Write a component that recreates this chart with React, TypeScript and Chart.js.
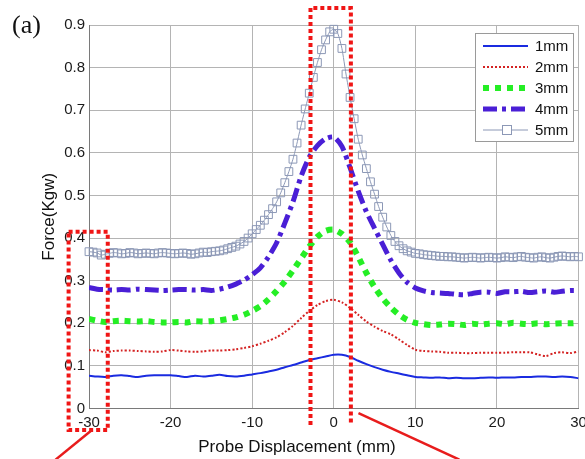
import React, { useEffect, useRef } from "react";
import { Chart, registerables } from "chart.js";

Chart.register(...registerables);

// Probe displacement (mm), 1 mm steps (curves 1-4)
const X_1MM_STEP = [
  -30, -29, -28, -27, -26, -25, -24, -23, -22, -21, -20, -19, -18, -17, -16, -15,
  -14, -13, -12, -11, -10, -9, -8, -7, -6, -5, -4, -3, -2, -1, 0, 1, 2, 3, 4, 5,
  6, 7, 8, 9, 10, 11, 12, 13, 14, 15, 16, 17, 18, 19, 20, 21, 22, 23, 24, 25, 26,
  27, 28, 29, 30,
];

// Probe displacement (mm), 0.5 mm steps (curve 5)
const X_HALF_MM_STEP = [
  -30, -29.5, -29, -28.5, -28, -27.5, -27, -26.5, -26, -25.5, -25, -24.5, -24, -23.5,
  -23, -22.5, -22, -21.5, -21, -20.5, -20, -19.5, -19, -18.5, -18, -17.5, -17, -16.5,
  -16, -15.5, -15, -14.5, -14, -13.5, -13, -12.5, -12, -11.5, -11, -10.5, -10, -9.5,
  -9, -8.5, -8, -7.5, -7, -6.5, -6, -5.5, -5, -4.5, -4, -3.5, -3, -2.5, -2, -1.5, -1,
  -0.5, 0, 0.5, 1, 1.5, 2, 2.5, 3, 3.5, 4, 4.5, 5, 5.5, 6, 6.5, 7, 7.5, 8, 8.5, 9, 9.5,
  10, 10.5, 11, 11.5, 12, 12.5, 13, 13.5, 14, 14.5, 15, 15.5, 16, 16.5, 17, 17.5, 18,
  18.5, 19, 19.5, 20, 20.5, 21, 21.5, 22, 22.5, 23, 23.5, 24, 24.5, 25, 25.5, 26, 26.5,
  27, 27.5, 28, 28.5, 29, 29.5, 30,
];

const FORCE_1MM = [
  0.077, 0.075, 0.074, 0.077, 0.078, 0.076, 0.074, 0.077, 0.078, 0.078, 0.078, 0.076,
  0.074, 0.077, 0.075, 0.077, 0.079, 0.076, 0.075, 0.077, 0.080, 0.083, 0.087, 0.091,
  0.097, 0.102, 0.108, 0.114, 0.118, 0.122, 0.126, 0.126, 0.121, 0.112, 0.104, 0.097,
  0.091, 0.086, 0.082, 0.078, 0.074, 0.073, 0.072, 0.073, 0.071, 0.072, 0.071, 0.071,
  0.072, 0.073, 0.072, 0.073, 0.073, 0.074, 0.074, 0.075, 0.075, 0.074, 0.075, 0.074,
  0.071,
];

const FORCE_2MM = [
  0.137, 0.136, 0.132, 0.135, 0.136, 0.136, 0.135, 0.134, 0.133, 0.134, 0.137, 0.136,
  0.134, 0.133, 0.134, 0.136, 0.136, 0.137, 0.139, 0.142, 0.146, 0.152, 0.159, 0.167,
  0.179, 0.194, 0.212, 0.229, 0.243, 0.252, 0.255, 0.249, 0.236, 0.220, 0.204, 0.192,
  0.182, 0.174, 0.162, 0.149, 0.138, 0.135, 0.134, 0.133, 0.131, 0.131, 0.130, 0.130,
  0.131, 0.131, 0.131, 0.131, 0.132, 0.132, 0.132, 0.127, 0.123, 0.130, 0.132, 0.130,
  0.134,
];

const FORCE_3MM = [
  0.210, 0.206, 0.203, 0.205, 0.206, 0.205, 0.204, 0.205, 0.203, 0.202, 0.202, 0.203,
  0.202, 0.205, 0.204, 0.205, 0.207, 0.210, 0.214, 0.220, 0.229, 0.240, 0.256, 0.276,
  0.298, 0.324, 0.352, 0.380, 0.403, 0.417, 0.420, 0.410, 0.390, 0.356, 0.318, 0.285,
  0.258, 0.237, 0.220, 0.208, 0.201, 0.198, 0.196, 0.197, 0.199, 0.198, 0.196, 0.199,
  0.197, 0.199, 0.200, 0.198, 0.201, 0.199, 0.198, 0.200, 0.198, 0.199, 0.200, 0.200,
  0.201,
];

const FORCE_4MM = [
  0.284, 0.280, 0.279, 0.278, 0.279, 0.278, 0.280, 0.279, 0.278, 0.277, 0.278, 0.279,
  0.279, 0.278, 0.279, 0.277, 0.280, 0.285, 0.292, 0.301, 0.314, 0.330, 0.356, 0.389,
  0.435, 0.485, 0.545, 0.590, 0.617, 0.633, 0.637, 0.615, 0.565, 0.510, 0.462, 0.423,
  0.385, 0.348, 0.318, 0.296, 0.283, 0.276, 0.272, 0.271, 0.270, 0.268, 0.267, 0.270,
  0.273, 0.273, 0.270, 0.274, 0.274, 0.275, 0.272, 0.274, 0.276, 0.273, 0.275, 0.277,
  0.277,
];

const FORCE_5MM = [
  0.368, 0.367, 0.365, 0.360, 0.362, 0.364, 0.366, 0.365, 0.363, 0.364, 0.366, 0.365,
  0.363, 0.364, 0.365, 0.364, 0.363, 0.365, 0.366, 0.365, 0.364, 0.363, 0.364, 0.365,
  0.364, 0.362, 0.363, 0.365, 0.367, 0.366, 0.368, 0.369,
  0.370, 0.372, 0.375, 0.378, 0.381, 0.386, 0.392, 0.400, 0.410, 0.420, 0.430, 0.442,
  0.455, 0.469, 0.485, 0.506, 0.530, 0.556, 0.585, 0.623, 0.665, 0.703, 0.740, 0.777,
  0.812, 0.842, 0.865, 0.884, 0.890,
  0.880, 0.845, 0.785, 0.730, 0.680, 0.632, 0.595, 0.563, 0.532, 0.503, 0.474, 0.449,
  0.426, 0.406, 0.392, 0.382, 0.375, 0.370, 0.367, 0.364, 0.363, 0.361, 0.360, 0.359,
  0.358, 0.357, 0.357, 0.356, 0.356, 0.355,
  0.354, 0.353, 0.354, 0.355, 0.354, 0.353, 0.354, 0.355, 0.354, 0.353, 0.354, 0.356,
  0.355, 0.354, 0.356, 0.357, 0.355, 0.354, 0.353, 0.355, 0.356, 0.354, 0.353, 0.355,
  0.357, 0.358, 0.357, 0.356, 0.357, 0.356,
];

const SERIES_LABELS = ["1mm", "2mm", "3mm", "4mm", "5mm"];
const X_TITLE = "Probe Displacement (mm)";
const Y_TITLE = "Force(Kgw)";
const PANEL_LABEL = "(a)";

const SANS = '"Liberation Sans", Arial, Helvetica, sans-serif';

const COLORS = {
  c1: "#1a2be0",
  c2: "#d42222",
  c3: "#25ee25",
  c4: "#4a1fd6",
  c5: "#8c98b6",
  red: "#f01515",
};

const STYLES = [
  { color: COLORS.c1, width: 2, dash: [] as number[] },
  { color: COLORS.c2, width: 2, dash: [2, 2] },
  { color: COLORS.c3, width: 6, dash: [6, 6] },
  { color: COLORS.c4, width: 5, dash: [14, 5, 4, 5] },
  { color: COLORS.c5, width: 1, dash: [] as number[] },
];

// Annotation regions in data units
const LEFT_BOX = { x0: -32.5, x1: -27.7, y0: -0.0505, y1: 0.4147 };
const CENTER_BOX = { x0: -2.85, x1: 2.1, yTop: 0.94, yBottom: -0.039 };
const POINTER_LINES = [
  { x0: -29.6, y0: -0.05, x1: -34.1, y1: -0.12 },
  { x0: 3.03, y0: -0.011, x1: 15.4, y1: -0.12 },
];

function toPoints(xs: number[], ys: number[]) {
  return ys.map((v, i) => ({ x: xs[i], y: v }));
}

const overlayPlugin = {
  id: "overlay",
  afterDraw(chart: any) {
    const { ctx, scales } = chart;
    const xs = scales.x;
    const ys = scales.y;
    const px = (v: number) => xs.getPixelForValue(v);
    const py = (v: number) => ys.getPixelForValue(v);
    const area = chart.chartArea;

    ctx.save();

    // Panel label
    ctx.fillStyle = "#111";
    ctx.font = '26px "Liberation Serif", "Times New Roman", serif';
    ctx.textAlign = "left";
    ctx.textBaseline = "alphabetic";
    ctx.fillText(PANEL_LABEL, 12, 33);

    // Axis titles
    ctx.font = `17px ${SANS}`;
    ctx.fillStyle = "#111";
    ctx.textAlign = "center";
    ctx.textBaseline = "middle";
    ctx.fillText(X_TITLE, 297, 447);
    ctx.save();
    ctx.translate(49, (area.top + area.bottom) / 2);
    ctx.rotate(-Math.PI / 2);
    ctx.fillText(Y_TITLE, 0, 0);
    ctx.restore();

    // Legend
    const lx = 475, ly = 33, lw = 98, lh = 108;
    ctx.fillStyle = "#ffffff";
    ctx.fillRect(lx, ly, lw, lh);
    ctx.strokeStyle = "#9a9a9a";
    ctx.lineWidth = 1;
    ctx.setLineDash([]);
    ctx.strokeRect(lx + 0.5, ly + 0.5, lw, lh);
    const rowsY = [46, 67, 88, 109, 130];
    SERIES_LABELS.forEach((label, i) => {
      const s = STYLES[i];
      const y = rowsY[i];
      ctx.beginPath();
      ctx.strokeStyle = s.color;
      ctx.lineWidth = s.width;
      ctx.setLineDash(s.dash);
      ctx.lineCap = "butt";
      ctx.moveTo(483, y);
      ctx.lineTo(528, y);
      ctx.stroke();
      if (i === 4) {
        ctx.setLineDash([]);
        ctx.fillStyle = "#ffffff";
        ctx.fillRect(502, y - 4.5, 9, 9);
        ctx.strokeRect(502.5, y - 4.5, 9, 9);
      }
      ctx.setLineDash([]);
      ctx.fillStyle = "#111";
      ctx.font = `15px ${SANS}`;
      ctx.textAlign = "left";
      ctx.textBaseline = "middle";
      ctx.fillText(label, 535, y + 1);
    });

    // Red dotted annotation boxes
    ctx.strokeStyle = COLORS.red;
    ctx.lineWidth = 4;
    ctx.setLineDash([4, 3]);
    ctx.beginPath();
    ctx.rect(px(LEFT_BOX.x0), py(LEFT_BOX.y1), px(LEFT_BOX.x1) - px(LEFT_BOX.x0), py(LEFT_BOX.y0) - py(LEFT_BOX.y1));
    ctx.stroke();

    ctx.beginPath();
    ctx.moveTo(px(CENTER_BOX.x0), py(CENTER_BOX.yBottom));
    ctx.lineTo(px(CENTER_BOX.x0), py(CENTER_BOX.yTop));
    ctx.lineTo(px(CENTER_BOX.x1), py(CENTER_BOX.yTop));
    ctx.lineTo(px(CENTER_BOX.x1), py(CENTER_BOX.yBottom));
    ctx.stroke();

    // Red pointer lines
    ctx.setLineDash([]);
    ctx.lineWidth = 2.5;
    ctx.strokeStyle = "#e81c1c";
    POINTER_LINES.forEach((l) => {
      ctx.beginPath();
      ctx.moveTo(px(l.x0), py(l.y0));
      ctx.lineTo(px(l.x1), py(l.y1));
      ctx.stroke();
    });

    ctx.restore();
  },
};

export default function App() {
  const canvasRef = useRef<HTMLCanvasElement | null>(null);

  useEffect(() => {
    const canvas = canvasRef.current;
    if (!canvas) return;

    const lineData = [FORCE_1MM, FORCE_2MM, FORCE_3MM, FORCE_4MM];
    const datasets: any[] = lineData.map((vals, i) => ({
      label: SERIES_LABELS[i],
      data: toPoints(X_1MM_STEP, vals),
      borderColor: STYLES[i].color,
      borderWidth: STYLES[i].width,
      borderDash: STYLES[i].dash,
      borderCapStyle: "butt",
      pointRadius: 0,
      tension: 0.25,
      fill: false,
    }));
    datasets.push({
      label: SERIES_LABELS[4],
      data: toPoints(X_HALF_MM_STEP, FORCE_5MM),
      borderColor: STYLES[4].color,
      borderWidth: 1,
      pointStyle: "rect",
      pointRadius: 5.5,
      pointBorderWidth: 1,
      pointBorderColor: STYLES[4].color,
      pointBackgroundColor: "rgba(255,255,255,0)",
      tension: 0.2,
      fill: false,
      clip: false,
    });

    const tickFont = { family: SANS, size: 15 };

    const chart = new Chart(canvas, {
      type: "line",
      data: { datasets },
      options: {
        responsive: false,
        animation: false,
        events: [],
        layout: { padding: { left: 0, right: 5, top: 25, bottom: 0 } },
        plugins: {
          legend: { display: false },
          tooltip: { enabled: false },
          title: { display: false },
        },
        scales: {
          x: {
            type: "linear",
            min: -30,
            max: 30,
            ticks: {
              stepSize: 10,
              padding: 5,
              font: tickFont,
              color: "#1a1a1a",
              maxRotation: 0,
              autoSkip: false,
            },
            grid: { color: "#b4b4b4", lineWidth: 1, drawTicks: false },
            border: { color: "#7a7a7a", width: 1 },
            afterFit: (s: any) => {
              s.height = 459 - 408.5;
              s.paddingLeft = 0;
              s.paddingRight = 0;
            },
          },
          y: {
            type: "linear",
            min: 0,
            max: 0.9,
            ticks: {
              stepSize: 0.1,
              padding: 4,
              font: tickFont,
              color: "#1a1a1a",
              callback: (v: any) => String(Number(Number(v).toFixed(1))),
            },
            grid: { color: "#b4b4b4", lineWidth: 1, drawTicks: false },
            border: { color: "#7a7a7a", width: 1 },
            afterFit: (s: any) => {
              s.width = 89;
              s.paddingTop = 0;
              s.paddingBottom = 0;
            },
          },
        },
      } as any,
      plugins: [overlayPlugin],
    });

    return () => {
      chart.destroy();
    };
  }, []);

  return (
    <div style={{ position: "absolute", left: 0, top: 0, width: 585, height: 459, background: "#fff" }}>
      <canvas ref={canvasRef} width={585} height={459} style={{ display: "block", width: 585, height: 459 }} />
    </div>
  );
}
